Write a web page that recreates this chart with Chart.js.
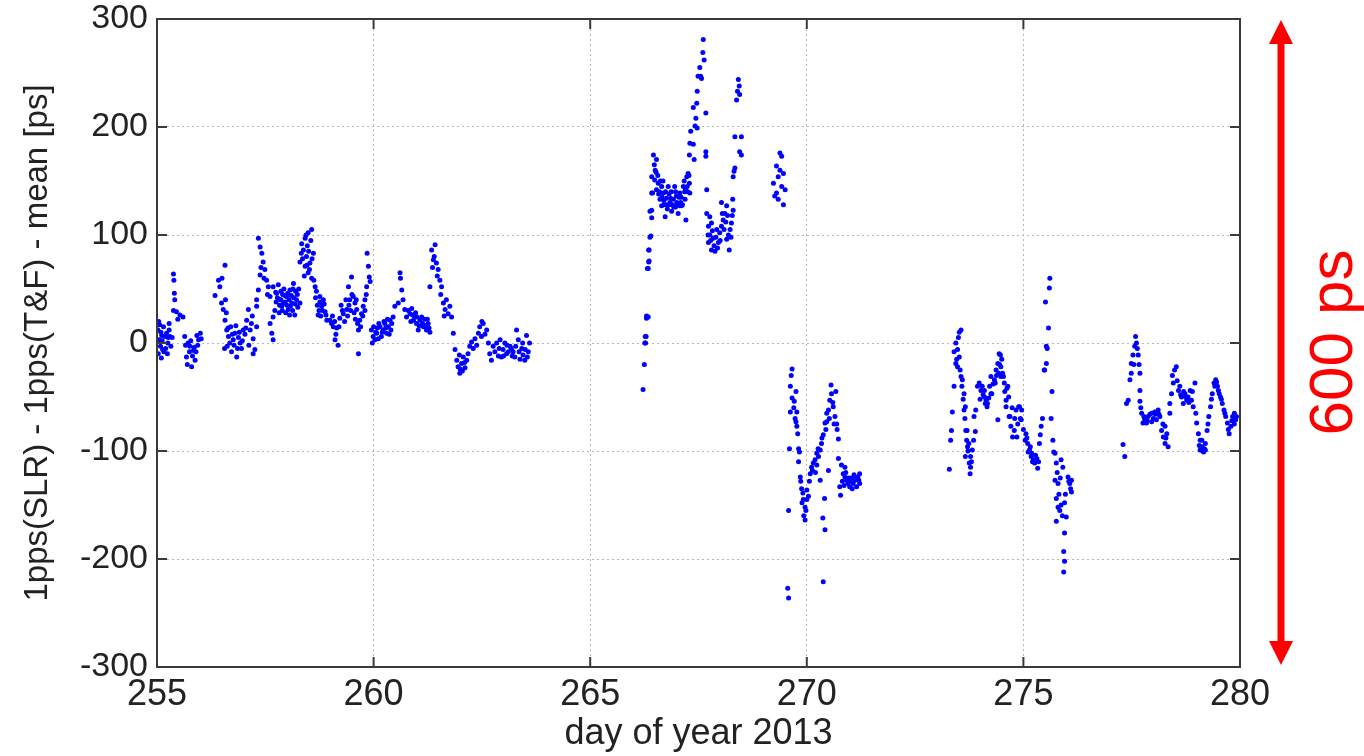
<!DOCTYPE html>
<html lang="en">
<head>
<meta charset="UTF-8">
<title>1pps SLR vs T&amp;F</title>
<script src="https://cdn.jsdelivr.net/npm/chart.js"></script>
<style>
  body { margin: 0; background: #fff; }
  #wrap { width: 1364px; height: 756px; position: relative; }
</style>
</head>
<body>
<div id="wrap"><canvas id="c"></canvas></div>
<script>
// [day of year, ps], one array per pass
const pass255 = [[255.02,12],[255.05,3],[255.08,-3],[255.11,7],[255.15,15],[255.18,6],[255.22,9],[255.25,0],[255.28,12],[255.32,-3],[255.10,-14],[255.16,-8],[255.28,18],[255.06,17],[255.20,-5],[255.35,5],[255.03,-10],
  [255.04,20],[255.09,10],[255.13,-6],[255.24,-10],[255.30,6],[255.12,2],[255.26,5],
  [255.38,64],[255.39,58],[255.40,46],[255.41,40],[255.38,30],[255.45,29],[255.53,26],[255.60,24],[255.48,22],
  [255.64,6],[255.72,0],[255.76,-3],[255.84,-7],[255.92,7],[255.96,3],[255.68,-13],[255.80,-22],[255.88,-16],[256.00,9],[255.75,-8],[255.70,-20],[255.86,-4],[256.02,4],
  [255.66,-2],[255.78,2],[255.82,-12],[255.90,-8],[255.94,-2]];
const pass256 = [[256.34,44],[256.42,58],[256.45,52],[256.57,72],[256.49,37],[256.53,31],[256.57,21],[256.61,12],[256.65,6],[256.68,0],[256.72,-8],[256.76,3],[256.80,9],[256.84,-13],[256.92,0],[256.99,12],[257.07,21],[257.11,31],[257.15,12],[257.22,4],[257.26,-6],[257.22,-10],[257.18,18],[257.30,15],
  [256.62,-3],[256.70,15],[256.88,5],[256.95,-5],[257.03,8],[256.78,-2],[256.58,40],[256.50,60],
  [256.64,14],[256.74,8],[256.82,16],[256.86,-5],[256.90,10],[256.97,2],[257.05,14],[257.12,-2],[257.20,25],[256.60,28],[256.56,-5],
  [257.34,97],[257.38,89],[257.42,83],[257.45,75],[257.38,63],[257.34,49],[257.30,40],[257.30,34],[257.49,68],[257.53,58],[257.57,52],[257.61,43],[257.61,18],[257.65,9],[257.68,3],[257.68,24],[257.40,70],[257.47,60],[257.55,45]];
const pass257 = [[257.68,52],[257.76,46],[257.84,40],[257.92,37],[257.99,43],[258.07,49],[258.15,55],[258.22,40],[257.88,34],[258.03,31],[258.18,26],[258.30,37],[257.80,54],[257.95,44],[258.11,37],
  [257.72,30],[257.82,28],[257.90,45],[258.00,35],[258.05,40],[258.13,30],[258.20,48],[258.25,33],[257.75,38],[257.86,48],[258.10,44],[257.97,28],[258.27,50],
  [257.78,42],[257.86,40],[257.93,50],[258.02,46],[258.08,34],[258.16,42],[258.24,45],[257.74,47],[257.89,30],[258.06,26],[258.14,50],[257.96,38],[258.19,36],[257.83,35],
  [258.57,105],[258.49,102],[258.42,97],[258.34,92],[258.38,86],[258.45,80],[258.53,74],[258.61,83],[258.30,75],[258.42,71],[258.49,65],[258.57,60],[258.36,78],[258.47,90],[258.55,95],[258.40,62],[258.52,68],
  [258.44,100],[258.50,85],[258.58,78],[258.33,83],[258.46,72],
  [258.65,52],[258.68,48],[258.76,43],[258.84,40],[258.80,34],[258.88,29],[258.72,26],[258.92,21],[258.76,38],[258.70,35],[258.82,30],[258.62,58],
  [258.66,42],[258.74,30],[258.86,36],[258.90,26],[258.78,25]];
const pass259 = [[258.99,21],[259.03,18],[259.07,15],[259.15,14],[259.11,3],[259.18,-2],[259.22,23],[259.30,27],[259.38,31],[259.45,40],[259.42,52],[259.49,61],[259.53,43],[259.57,37],[259.61,31],[259.65,12],[259.65,-10],[259.68,21],[259.72,27],[259.76,34],[259.80,40],[259.84,52],[259.88,71],[259.85,83],[259.90,61],[259.92,57],
  [259.25,35],[259.33,20],[259.40,25],[259.47,30],[259.13,8],[259.58,22],[259.70,15],[259.05,25],
  [259.10,20],[259.20,15],[259.28,30],[259.36,40],[259.43,35],[259.50,45],[259.55,28],[259.60,40],[259.63,18],[259.75,25],[259.80,30],[259.83,45],
  [259.95,12],[259.99,6],[260.03,3],[260.07,9],[260.15,15],[260.22,12],[260.30,9],[260.38,21],[260.34,15],[260.11,4],[260.26,18],[260.45,24],[260.00,15],[260.18,6],[260.24,20],[260.12,18],[259.97,0],[260.36,8],
  [260.05,10],[260.09,14],[260.20,10],[260.28,14],[260.32,22],[260.40,12],[260.42,18],
  [260.49,34],[260.57,37],[260.61,65],[260.62,60],[260.65,49],[260.68,40],[260.72,31],[260.76,24]];
const pass261 = [[260.84,27],[260.92,21],[260.99,18],[261.07,21],[261.15,15],[261.22,12],[260.88,32],[260.95,24],[261.11,24],[261.26,18],[260.80,30],[261.03,12],[261.18,22],[261.30,10],[260.97,28],
  [260.86,20],[260.90,26],[261.00,24],[261.05,16],[261.13,18],[261.20,16],[261.24,22],[261.28,14],
  [261.30,52],[261.34,86],[261.42,91],[261.38,77],[261.45,74],[261.49,68],[261.53,58],[261.57,52],[261.61,37],[261.65,31],[261.68,40],[261.76,34],[261.80,24],[261.72,27],[261.84,9],[261.40,80],[261.47,62],[261.55,45],[261.63,25],[261.36,70],
  [261.88,-6],[261.92,-16],[261.95,-22],[261.99,-28],[262.03,-19],[262.07,-13],[262.11,-23],[262.15,-16],[262.18,-10],[262.22,-3],[261.98,-11],[262.00,-24],[262.05,-26],[262.10,-18],
  [262.26,1],[262.34,4],[262.42,9],[262.45,15],[262.53,18],[262.61,12],[262.49,6],[262.65,0],[262.68,-10],[262.72,-16],[262.30,-5],[262.38,-2],[262.57,8],[262.50,20],
  [262.76,-3],[262.84,0],[262.92,3],[262.99,-6],[263.07,-10],[263.15,-3],[263.22,-8],[263.30,12],[263.34,3],[263.42,-5],[263.45,-11],[263.53,7],[263.57,-8],[262.95,-13],[263.11,-8],[263.26,-13],[263.49,-16],
  [262.80,-8],[262.88,-12],[263.03,0],[263.18,-5],[263.38,-15],[263.60,0],[263.55,-13],
  [262.90,-5],[263.00,-12],[263.08,-2],[263.20,-12],[263.28,-3],[263.36,-8],[263.44,0],[263.50,-6]];
const pass266 = [[266.22,-43],[266.25,-20],[266.26,0],[266.28,0],[266.27,6],[266.29,6],[266.30,23],[266.30,25],[266.34,24],[266.32,69],[266.34,69],[266.35,75],[266.36,76],[266.35,86],[266.36,86],[266.38,98],[266.40,99],[266.42,116],[266.42,123],[266.44,139],
  [266.46,174],[266.53,170],[266.42,154],[266.49,151],[266.57,148],[266.65,145],[266.69,139],[266.61,133],[266.76,134],[266.84,130],[266.92,133],[266.99,136],[267.07,139],[267.15,145],[267.23,154],[267.26,157],[267.19,133],[267.11,127],[267.03,120],[266.88,122],[266.73,117],[266.65,127],[267.21,114],[267.24,145],[267.29,148],[266.42,139],[266.53,142],[266.80,145],[266.95,145],[267.07,127],[267.30,139],[266.38,122],[266.76,128],
  [266.50,160],[266.60,140],[266.70,132],[266.82,138],[266.90,128],[267.00,130],[267.10,135],[267.18,140],[266.86,134],[266.97,126],
  [266.48,165],[266.52,158],[266.56,155],[266.62,150],[266.66,135],[266.70,128],[266.74,140],[266.78,124],[266.83,128],[266.87,140],[266.93,126],[266.97,140],[267.02,128],[267.05,135],[267.09,130],[267.13,128],[267.17,150],[267.20,142],[267.25,140],[267.28,155],[266.58,138],[266.68,150]];
const pass267 = [[267.61,281],[267.60,269],[267.63,262],[267.53,255],[267.49,247],[267.57,245],[267.55,247],[267.47,233],[267.46,222],[267.38,218],[267.67,213],[267.44,208],[267.42,201],[267.47,199],[267.32,196],[267.30,185],[267.38,184],[267.29,174],[267.40,170],[267.67,177],[267.67,173],[267.69,142],
  [267.69,120],[267.76,117],[267.80,111],[267.73,108],[267.76,100],[267.84,97],[267.73,93],[267.80,86],[267.88,85],[267.96,93],[267.99,102],[268.03,108],[268.07,114],[268.11,120],[268.15,127],[268.19,100],[268.23,105],[268.26,111],[268.30,123],[268.29,133],[268.21,86],[268.03,130],[267.92,105],[268.15,96],
  [267.72,100],[267.78,95],[267.82,104],[267.86,90],[267.90,98],[267.94,88],[268.00,95],[268.05,120],[268.09,105],[268.13,112],[268.17,118],[268.25,98],[268.28,118],
  [268.42,244],[268.44,238],[268.40,233],[268.38,225],[268.45,230],[268.34,191],[268.49,191],[268.45,177],[268.49,174],[268.34,162],[268.30,154],[268.32,159]];
const pass269 = [[269.38,176],[269.42,173],[269.30,164],[269.38,160],[269.46,157],[269.34,154],[269.23,148],[269.42,145],[269.50,142],[269.26,136],[269.34,133],[269.46,128],[269.30,139],
  [269.66,-24],[269.62,-40],[269.66,-51],[269.71,-54],[269.75,-45],[269.62,-64],[269.77,-64],[269.75,-73],[269.77,-77],[269.79,-84],[269.60,-98],[269.81,-98],[269.83,-101],[269.81,-110],[269.85,-124],[269.86,-128],[269.58,-155],[269.91,-139],[269.92,-145],[269.96,-152],[269.98,-155],[269.96,-164],[269.89,-148],[270.00,-136],[270.04,-142],[269.56,-227],[269.58,-236],
  [269.70,-60],[269.73,-70],[269.64,-30],[269.88,-135],[269.93,-160],[270.00,-145],
  [270.08,-121],[270.11,-115],[270.15,-111],[270.19,-108],[270.23,-102],[270.27,-105],[270.31,-99],[270.34,-93],[270.38,-85],[270.42,-74],[270.46,-65],[270.50,-62],[270.53,-53],[270.57,-47],[270.56,-39],[270.61,-59],[270.65,-68],[270.69,-75],[270.46,-73],[270.41,-144],[270.37,-162],[270.42,-173],[270.38,-221],[270.73,-89],[270.50,-118],[270.31,-127],[270.23,-113],
  [270.06,-128],[270.13,-118],[270.20,-120],[270.26,-98],[270.35,-88],[270.44,-80],[270.52,-70],[270.60,-55],[270.63,-75],[270.67,-45],[270.70,-80],
  [270.73,-107],[270.80,-113],[270.84,-121],[270.76,-133],[270.88,-124],[270.92,-127],[270.95,-130],[270.99,-133],[271.03,-125],[271.07,-130],[271.11,-127],[271.15,-133],[271.18,-124],[271.22,-121],[270.88,-115],[270.78,-141],[271.22,-130],
  [270.82,-128],[270.86,-132],[270.90,-120],[270.97,-125],[271.00,-128],[271.05,-135],[271.09,-122],[271.13,-125],[271.20,-127]];
const pass273 = [[273.29,-117],[273.32,-90],[273.34,-81],[273.36,-64],[273.40,-40],[273.44,-19],[273.48,-6],[273.52,10],[273.56,12],[273.44,0],[273.48,-22],[273.56,-31],[273.59,-34],[273.63,-47],[273.63,-62],[273.67,-81],[273.71,-96],[273.75,-111],[273.77,-121],[273.40,-8],[273.52,-13],
  [273.46,-15],[273.50,5],[273.54,-25],[273.58,-40],[273.61,-52],[273.65,-70],[273.69,-90],[273.72,-100],[273.80,-110],
  [273.66,-59],[273.70,-81],[273.74,-93],[273.78,-105],[273.78,-115],[273.82,-99],[273.66,-105],[273.89,-82],[273.85,-90],
  [273.86,-68],[273.90,-62],[273.94,-40],[273.98,-37],[274.02,-44],[274.10,-50],[274.17,-56],[274.25,-47],[274.33,-34],[274.37,-25],[274.41,-19],[274.44,-10],[274.48,-22],[274.52,-28],[274.56,-37],[274.64,-40],[274.60,-59],[274.67,-68],[274.71,-77],[274.75,-87],[274.83,-62],[274.91,-59],[274.95,-71],[274.41,-71],[274.25,-31],[274.48,-31],[274.10,-44],[274.60,-53],[274.79,-81],
  [274.05,-40],[274.12,-56],[274.16,-59],[274.20,-51],[274.27,-47],[274.35,-37],[274.43,-28],[274.47,-11],[274.54,-31],[274.62,-42],[274.69,-68],[274.85,-87],[274.89,-59],[274.96,-62],
  [274.00,-52],[274.07,-48],[274.14,-53],[274.22,-40],[274.30,-38],[274.38,-30],[274.45,-20],[274.50,-15],[274.57,-45],[274.66,-50],[274.74,-60],[274.80,-70],[274.87,-75],[274.93,-70],[275.00,-80]];
const pass275 = [[275.06,-84],[275.10,-93],[275.14,-99],[275.18,-105],[275.26,-111],[275.33,-116],[275.37,-93],[275.41,-77],[275.04,-90],[275.11,-101],[275.23,-108],[275.31,-107],[275.19,-102],
  [275.08,-88],[275.16,-96],[275.21,-110],[275.28,-104],[275.35,-110],[275.39,-85],[275.44,-70],
  [275.49,-25],[275.53,-19],[275.55,-5],[275.58,14],[275.51,38],[275.60,51],[275.61,60],[275.66,-45],[275.64,-70],[275.68,-90],[275.70,-101],[275.53,-3],[275.48,-25],[275.73,-102],[275.76,-111],
  [275.73,-127],[275.80,-130],[275.76,-144],[275.80,-152],[275.87,-150],[275.95,-148],[275.99,-161],[276.03,-124],[276.07,-130],[276.11,-127],[275.76,-165],[275.95,-176],[275.93,-193],[275.95,-202],[275.93,-212],[275.87,-108],[275.91,-115],[276.11,-138],[275.84,-155],
  [275.82,-140],[275.90,-160],[275.97,-140],[276.05,-128],[276.09,-135],[275.78,-120],[275.85,-125]];
const pass277 = [[277.30,-94],[277.34,-105],[277.38,-56],[277.42,-53],[277.46,-34],[277.49,-28],[277.49,-19],[277.53,-11],[277.57,-3],[277.59,6],[277.61,0],[277.65,-11],[277.69,-28],[277.69,-44],[277.69,-54],[277.73,-65],[277.76,-74],[277.80,-71],
  [277.55,-20],[277.63,-5],[277.67,-20],[277.71,-60],[277.78,-68],[277.86,-72],[277.92,-66],[278.00,-70],[278.05,-66],[278.13,-66],[278.22,-75],[278.29,-88],
  [277.88,-68],[277.96,-65],[278.03,-64],[278.11,-62],[278.07,-71],[277.96,-73],[277.84,-74],[278.15,-68],[278.19,-81],[278.23,-87],[278.27,-93],[278.31,-84],[278.38,-65],[278.38,-56],[278.42,-47],[278.46,-37],[278.49,-25],[278.53,-22],[278.58,-44],[278.65,-50],[278.73,-47],[278.80,-50],[278.88,-53],[278.96,-37],[278.92,-59],
  [278.44,-30],[278.55,-35],[278.63,-48],[278.70,-45],[278.75,-50],[278.82,-55],[278.90,-45],[278.98,-65],
  [279.00,-74],[279.04,-84],[279.08,-90],[279.12,-96],[279.16,-101],[279.20,-93],[279.24,-81],[279.28,-68],[279.32,-59],[279.36,-47],[279.40,-37],[279.44,-34],[279.48,-40],[279.52,-47],[279.55,-50],[279.59,-56],[279.63,-62],[279.67,-68],[279.71,-74],[279.75,-84],[279.79,-77],[279.83,-68],[279.87,-65],[279.90,-71],[279.87,-75],
  [279.06,-95],[279.14,-100],[279.18,-98],[279.26,-75],[279.34,-52],[279.42,-40],[279.46,-36],[279.50,-44],[279.57,-52],[279.65,-65],[279.73,-80],[279.81,-72],[279.85,-70],[279.92,-68],
  [278.69,-56],[278.77,-53],[278.85,-44],[278.61,-40],[279.12,-90],[279.20,-99],[279.08,-99],[278.27,-77],[278.34,-96]];

const xTicks = [255, 260, 265, 270, 275, 280];
const yTicks = [-300, -200, -100, 0, 100, 200, 300];
const spanLabel = '600 ps';

const allPasses = [pass255, pass256, pass257, pass259, pass261, pass266, pass267, pass269, pass273, pass275, pass277];
const points = allPasses.flat().map(p => ({ x: p[0], y: p[1] }));

const font = 'Liberation Sans, Arial, sans-serif';

// MATLAB-style box, inward ticks, and the red 600 ps arrow
const frame = {
  id: 'frame',
  afterDraw(chart) {
    const { ctx, chartArea: a, scales: { x, y } } = chart;
    ctx.save();
    ctx.strokeStyle = '#3a3a3a';
    ctx.lineWidth = 2;
    ctx.strokeRect(a.left, a.top, a.right - a.left, a.bottom - a.top);
    ctx.beginPath();
    xTicks.forEach(v => {
      const px = x.getPixelForValue(v);
      ctx.moveTo(px, a.bottom); ctx.lineTo(px, a.bottom - 10);
      ctx.moveTo(px, a.top); ctx.lineTo(px, a.top + 10);
    });
    yTicks.forEach(v => {
      const py = y.getPixelForValue(v);
      ctx.moveTo(a.left, py); ctx.lineTo(a.left + 10, py);
      ctx.moveTo(a.right, py); ctx.lineTo(a.right - 10, py);
    });
    ctx.stroke();

    const ax = a.right + 41;
    const top = y.getPixelForValue(300) + 1;
    const bot = y.getPixelForValue(-300) - 2;
    ctx.fillStyle = '#ff0000';
    ctx.strokeStyle = '#ff0000';
    ctx.lineWidth = 7;
    ctx.beginPath(); ctx.moveTo(ax, top + 20); ctx.lineTo(ax, bot - 20); ctx.stroke();
    ctx.beginPath(); ctx.moveTo(ax, top); ctx.lineTo(ax - 12, top + 24); ctx.lineTo(ax + 12, top + 24); ctx.closePath(); ctx.fill();
    ctx.beginPath(); ctx.moveTo(ax, bot); ctx.lineTo(ax - 12, bot - 24); ctx.lineTo(ax + 12, bot - 24); ctx.closePath(); ctx.fill();

    ctx.translate(a.right + 112, (top + bot) / 2);
    ctx.rotate(-Math.PI / 2);
    ctx.font = '62px ' + font;
    ctx.textAlign = 'center';
    ctx.textBaseline = 'alphabetic';
    ctx.fillText(spanLabel, 0, 0);
    ctx.restore();
  }
};

new Chart(document.getElementById('c'), {
  type: 'scatter',
  data: {
    datasets: [{
      data: points,
      backgroundColor: '#0000ff',
      borderWidth: 0,
      pointRadius: 2.5,
      pointHoverRadius: 2.5
    }]
  },
  options: {
    responsive: true,
    maintainAspectRatio: false,
    animation: false,
    layout: { padding: { left: 0, right: 124, top: 19, bottom: 0 } },
    plugins: { legend: { display: false }, tooltip: { enabled: false } },
    scales: {
      x: {
        type: 'linear', min: 255, max: 280,
        afterBuildTicks: s => { s.ticks = xTicks.map(v => ({ value: v })); },
        afterFit: s => { s.height = 89; s.paddingLeft = 0; s.paddingRight = 0; },
        grid: { color: '#b8b8b8', lineWidth: 1, drawTicks: false },
        border: { display: false, dash: [2, 3] },
        ticks: { padding: 6, color: '#222', font: { family: font, size: 36 }, maxRotation: 0 },
        title: { display: true, text: 'day of year 2013', color: '#222', font: { family: font, size: 36 }, padding: { top: 0, bottom: 0 } }
      },
      y: {
        min: -300, max: 300,
        afterBuildTicks: s => { s.ticks = yTicks.map(v => ({ value: v })); },
        afterFit: s => { s.width = 157; s.paddingTop = 0; s.paddingBottom = 0; },
        grid: { color: '#b8b8b8', lineWidth: 1, drawTicks: false },
        border: { display: false, dash: [2, 3] },
        ticks: { padding: 9, color: '#222', font: { family: font, size: 34, lineHeight: 1 } },
        title: { display: true, text: '1pps(SLR) - 1pps(T&F) - mean [ps]', color: '#222', font: { family: font, size: 33 }, padding: { top: 18, bottom: 0 } }
      }
    }
  },
  plugins: [frame]
});
</script>
</body>
</html>
